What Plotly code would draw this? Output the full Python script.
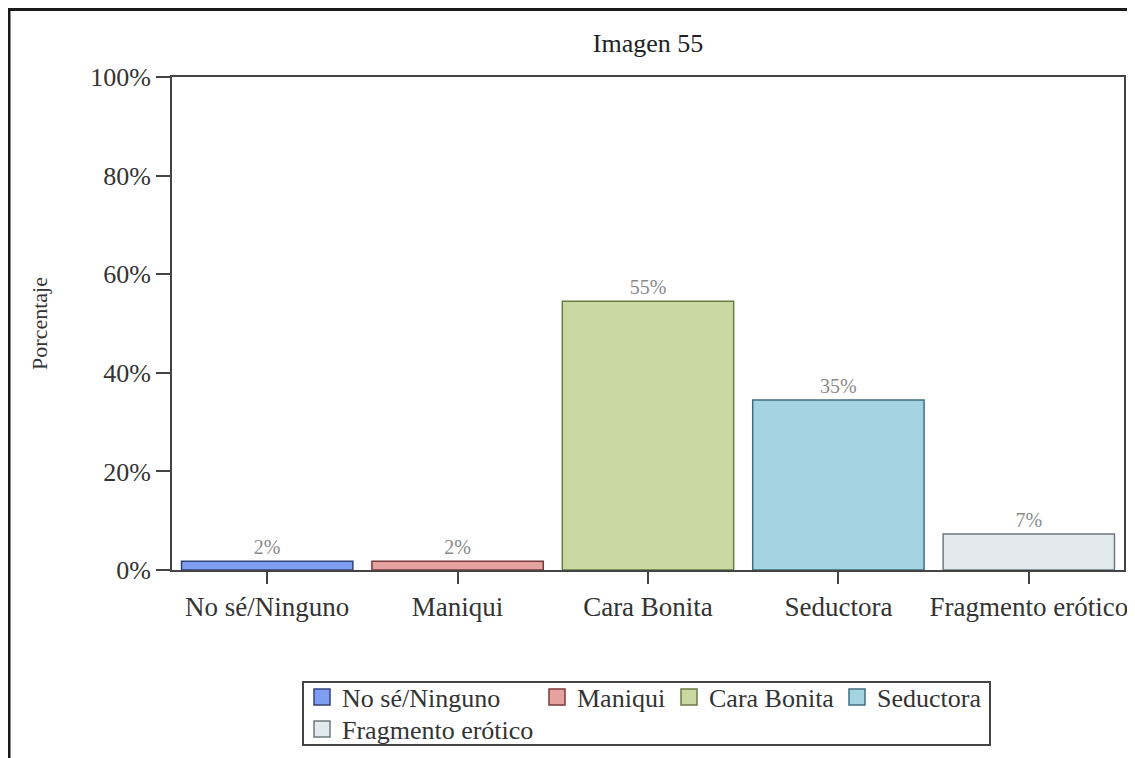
import plotly.graph_objects as go

categories = ["No sé/Ninguno", "Maniqui", "Cara Bonita", "Seductora", "Fragmento erótico"]
values = [1.8, 1.8, 54.5, 34.5, 7.3]
labels = ["2%", "2%", "55%", "35%", "7%"]
fill_colors = ["#7f9ef2", "#e6a1a1", "#c9d9a1", "#a4d4e2", "#e2eaee"]
line_colors = ["#33437a", "#7a3a3a", "#6b7a45", "#3f6f7e", "#6e7a80"]
legend_rows = ["legend", "legend", "legend", "legend", "legend2"]
legend_widths = [190, 87, 123, None, None]
yticks = [0, 20, 40, 60, 80, 100]
ytick_text = ["0%", "20%", "40%", "60%", "80%", "100%"]

# page shows figure offset by 8px (body margin)
OFF = 8
W, H = 1127, 750
left_px, right_px, top_px, bot_px = 172 - OFF, 1124 - OFF, 77 - OFF, 570 - OFF
ml, mr, mt, mb = left_px, W - right_px, top_px, H - bot_px
pw, ph = W - ml - mr, H - mt - mb


def px_x(p):
    return (p - OFF - ml) / pw


def px_y(p):
    return (H - mb - (p - OFF)) / ph


fig = go.Figure()
for c, v, t, fc, lc in zip(categories, values, labels, fill_colors, line_colors):
    fig.add_trace(go.Bar(
        x=[c], y=[v], name=c, width=0.9, showlegend=False,
        marker=dict(color=fc, line=dict(color=lc, width=1.5)),
        text=[t], textposition="outside", cliponaxis=False,
        textfont=dict(family="Liberation Serif", size=20, color="#8a8a8a"),
    ))

# legend entries (square swatches)
for c, fc, lc, lg, lw in zip(categories, fill_colors, line_colors, legend_rows, legend_widths):
    kw = {} if lw is None else dict(legendwidth=lw)
    fig.add_trace(go.Scatter(
        x=[None], y=[None], name=c, mode="markers", legend=lg, showlegend=True,
        marker=dict(symbol="square", size=16, color=fc, line=dict(color=lc, width=1.5)),
        hoverinfo="skip", **kw,
    ))

leg_common = dict(orientation="h", xanchor="left", yanchor="middle",
                  borderwidth=0, bgcolor="rgba(0,0,0,0)",
                  font=dict(size=26, color="#333333"), traceorder="normal",
                  itemwidth=30, tracegroupgap=0)

fig.update_layout(
    width=W, height=H,
    margin=dict(l=ml, r=mr, t=mt, b=mb, autoexpand=False),
    barmode="overlay",
    plot_bgcolor="white", paper_bgcolor="white",
    font=dict(family="Liberation Serif", color="#333333"),
    title=dict(text="Imagen 55", x=0.5, xref="paper", y=1 - (43 - OFF) / H, yanchor="middle",
               font=dict(size=26, color="#222222")),
    showlegend=True,
    legend=dict(x=px_x(302), y=px_y(697), **leg_common),
    legend2=dict(x=px_x(302), y=px_y(729), **leg_common),
    xaxis=dict(type="category", categoryorder="array", categoryarray=categories,
               showline=True, linecolor="#444444", linewidth=2, mirror=True,
               ticks="outside", ticklen=12, tickwidth=2, tickcolor="#444444",
               tickfont=dict(size=27, color="#333333"), showgrid=False),
    yaxis=dict(range=[0, 100], tickvals=yticks, ticktext=ytick_text,
               showline=True, linecolor="#444444", linewidth=2, mirror=True,
               ticks="outside", ticklen=14, tickwidth=2, tickcolor="#444444",
               tickfont=dict(size=26, color="#333333"), showgrid=False, zeroline=False,
               title=dict(text="Porcentaje", font=dict(size=22, color="#333333"), standoff=36)),
    shapes=[
        dict(type="rect", xref="paper", yref="paper",
             x0=px_x(9), x1=px_x(1150), y0=px_y(780), y1=px_y(9.5),
             line=dict(color="#1a1a1a", width=3), fillcolor="rgba(0,0,0,0)", layer="below"),
        dict(type="rect", xref="paper", yref="paper",
             x0=px_x(303), x1=px_x(990), y0=px_y(745), y1=px_y(682),
             line=dict(color="#444444", width=2), fillcolor="white", layer="below"),
    ],
)

fig.write_html("out.html")
